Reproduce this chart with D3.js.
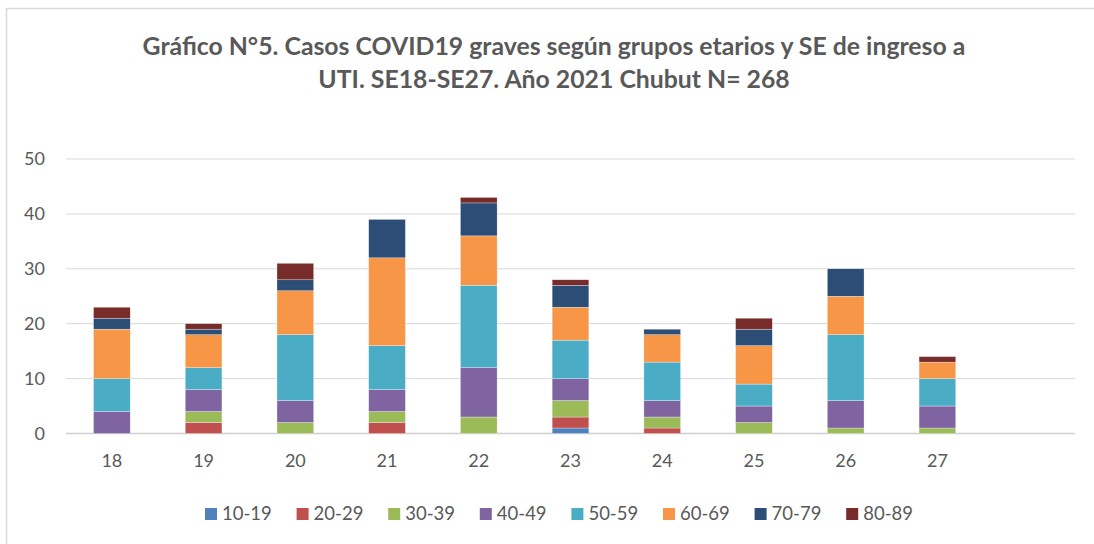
<!DOCTYPE html>
<html><head><meta charset="utf-8">
<script src="https://cdn.jsdelivr.net/npm/d3@7"></script>
<style>body{margin:0;background:#fff}svg{display:block}</style>
</head><body>
<svg id="c" width="1094" height="544"></svg>
<script>
const categories = ["18","19","20","21","22","23","24","25","26","27",""];
const groups = ["10-19","20-29","30-39","40-49","50-59","60-69","70-79","80-89"];
const colors = ["#4f81bd","#c0504d","#9bbb59","#8064a2","#4bacc6","#f79646","#2c4d75","#772c2a"];
const v1019 = [0,0,0,0,0,1,0,0,0,0,0];
const v2029 = [0,2,0,2,0,2,1,0,0,0,0];
const v3039 = [0,2,2,2,3,3,2,2,1,1,0];
const v4049 = [4,4,4,4,9,4,3,3,5,4,0];
const v5059 = [6,4,12,8,15,7,7,4,12,5,0];
const v6069 = [9,6,8,16,9,6,5,7,7,3,0];
const v7079 = [2,1,2,7,6,4,1,3,5,0,0];
const v8089 = [2,1,3,0,1,1,0,2,0,1,0];
const yTicks = [0,10,20,30,40,50];
const series = [v1019,v2029,v3039,v4049,v5059,v6069,v7079,v8089];

const table = categories.map((c,i)=>{const o={cat:c+"_"+i}; groups.forEach((g,j)=>o[g]=series[j][i]); return o;});
const svg = d3.select("#c");
const font = "Lato, 'Open Sans', sans-serif";
const txt = "#595959";

svg.append("rect").attr("x",6.5).attr("y",8.5).attr("width",1200).attr("height",600)
  .attr("fill","none").attr("stroke","#d9d9d9").attr("stroke-width",1.5);

const x = d3.scaleBand().domain(table.map(d=>d.cat)).range([66,1075]).paddingInner(0.6).paddingOuter(0.3);
const y = d3.scaleLinear().domain([0,50]).range([433.5,159]);

const grid = svg.append("g");
grid.selectAll("line").data(yTicks).join("line")
  .attr("x1",66).attr("x2",1075).attr("y1",d=>y(d)).attr("y2",d=>y(d))
  .attr("stroke",d=>d===0?"#d0d0d0":"#d9d9d9").attr("stroke-width",d=>d===0?1.5:1);

const yAxis = d3.axisLeft(y).tickValues(yTicks).tickSize(0).tickPadding(0);
const ya = svg.append("g").attr("transform","translate(45,0)").call(yAxis);
ya.select(".domain").remove();
ya.selectAll("text").attr("font-family",font).attr("font-size",18).attr("fill",txt);

const xAxis = d3.axisBottom(x).tickSize(0).tickPadding(0).tickFormat(d=>d.split("_")[0]);
const xa = svg.append("g").attr("transform","translate(0,454)").call(xAxis);
xa.select(".domain").remove();
xa.selectAll("text").attr("font-family",font).attr("font-size",18).attr("fill",txt);

const stack = d3.stack().keys(groups)(table);
svg.append("g").selectAll("g").data(stack).join("g")
  .attr("fill",(d,i)=>colors[i])
  .selectAll("rect").data(d=>d).join("rect")
  .attr("x",d=>x(d.data.cat)).attr("width",x.bandwidth())
  .attr("y",d=>y(d[1])).attr("height",d=>y(d[0])-y(d[1]))
  .attr("stroke","#fff").attr("stroke-width",0.5).attr("stroke-opacity",0.6);

const title = svg.append("text").attr("font-family",font).attr("font-size",24.8).attr("font-weight","bold")
  .attr("fill",txt).attr("text-anchor","middle");
title.append("tspan").attr("x",554).attr("y",55).text("Gráfico N°5. Casos COVID19 graves según grupos etarios y SE de ingreso a");
title.append("tspan").attr("x",554).attr("y",88).text("UTI. SE18-SE27. Año 2021 Chubut N= 268");

const lg = svg.append("g").selectAll("g").data(groups).join("g")
  .attr("transform",(d,i)=>`translate(${205+i*91.6},508)`);
lg.append("rect").attr("width",12).attr("height",12).attr("y",0).attr("fill",(d,i)=>colors[i]);
lg.append("text").attr("x",17).attr("y",12).attr("font-family",font).attr("font-size",18.5).attr("fill",txt).text(d=>d);
</script>
</body></html>
